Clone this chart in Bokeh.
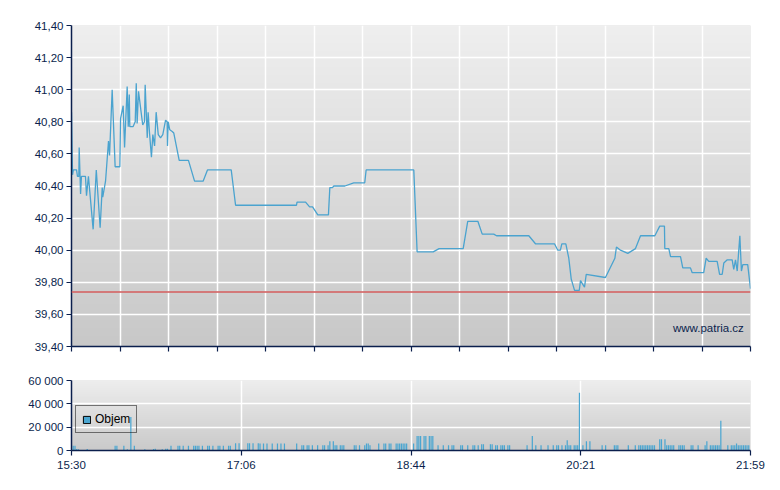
import numpy as np
from bokeh.plotting import figure
from bokeh.layouts import column
from bokeh.models import FixedTicker, Span, Label, Legend, LegendItem, Range1d
from bokeh.embed import file_html
from bokeh.resources import INLINE

# ---------------- data ----------------
# minutes since 15:30 (session 15:30 - 21:59)
session_len = 389
price_min = [
    0, 0.6, 1.1, 2.9, 3.4, 4.2, 4.4, 5.2, 5.7, 8.0,
    8.6, 9.7, 12.4, 14.2, 16.4, 17.6, 17.9, 19.5, 21.2, 21.8,
    23.3, 25.0, 27.7, 28.1, 29.6, 30.4, 31.9, 32.5, 33.1, 33.4,
    35.3, 36.5, 37.1, 37.6, 38.4, 40.8, 41.8, 42.2, 43.4, 43.9,
    44.7, 45.8, 46.6, 47.6, 48.5, 49.7, 51.0, 52.3, 53.9, 54.8,
    55.0, 55.4, 56.3, 57.7, 58.6, 61.7, 67.0, 70.5, 75.4, 77.9,
    91.5, 94.0, 128.9, 129.2, 134.1, 136.4, 138.1, 141.1, 147.2, 148.0,
    149.5, 150.3, 156.6, 161.7, 168.0, 168.8, 196.1, 198.0, 207.2, 210.6,
    224.4, 227.0, 232.8, 235.3, 241.9, 243.5, 262.0, 265.8, 276.7, 278.6,
    280.1, 280.9, 283.2, 284.9, 286.3, 288.2, 290.9, 291.6, 293.9, 294.9,
    305.9, 311.3, 312.2, 314.5, 318.7, 323.1, 326.0, 334.2, 337.0, 339.7,
    339.9, 342.2, 343.2, 348.9, 350.2, 354.6, 355.6, 362.2, 363.6, 365.1,
    369.9, 371.3, 372.8, 373.7, 375.7, 378.5, 379.4, 380.4, 381.4, 382.9,
    383.8, 384.6, 387.4, 389,
]
price_val = [
    40.86, 40.47, 40.50, 40.50, 40.46, 40.46, 40.64, 40.35, 40.46, 40.46,
    40.34, 40.46, 40.13, 40.50, 40.14, 40.39, 40.33, 40.43, 40.68, 40.59,
    41.00, 40.52, 40.52, 40.82, 40.90, 40.64, 41.02, 40.77, 40.97, 40.77,
    40.77, 40.80, 41.04, 40.79, 40.99, 40.78, 40.80, 41.03, 40.70, 40.86,
    40.73, 40.58, 40.72, 40.65, 40.86, 40.72, 40.70, 40.72, 40.81, 40.80,
    40.65, 40.80, 40.75, 40.74, 40.73, 40.56, 40.56, 40.43, 40.43, 40.50,
    40.50, 40.28, 40.28, 40.30, 40.30, 40.27, 40.27, 40.22, 40.22, 40.39,
    40.39, 40.40, 40.40, 40.42, 40.42, 40.50, 40.50, 39.99, 39.99, 40.01,
    40.01, 40.18, 40.18, 40.10, 40.10, 40.09, 40.09, 40.04, 40.04, 40.00,
    40.00, 40.04, 40.04, 39.95, 39.82, 39.75, 39.75, 39.81, 39.77, 39.85,
    39.83, 39.95, 40.02, 40.00, 39.98, 40.01, 40.09, 40.09, 40.15, 40.15,
    40.01, 40.01, 39.96, 39.96, 39.89, 39.89, 39.86, 39.86, 39.95, 39.93,
    39.93, 39.85, 39.85, 39.92, 39.94, 39.94, 39.88, 39.94, 39.87, 40.09,
    39.87, 39.91, 39.91, 39.76,
]
prev_close = 39.74

vol_min = [
    1, 2, 3, 4, 9, 25, 26, 30, 32, 34,
    36, 42, 47, 48, 52, 54, 55, 57, 61, 62,
    64, 67, 70, 71, 72, 73, 75, 78, 79, 81,
    84, 85, 87, 90, 91, 94, 96, 101, 102, 104,
    107, 108, 110, 112, 115, 118, 120, 122, 129, 132,
    133, 135, 136, 138, 141, 144, 145, 147, 148, 150,
    151, 152, 154, 155, 156, 162, 163, 165, 168, 169,
    170, 171, 176, 179, 180, 182, 183, 186, 187, 188,
    189, 190, 191, 192, 196, 198, 199, 200, 202, 203,
    205, 206, 207, 210, 213, 216, 218, 219, 223, 224,
    227, 230, 231, 233, 235, 236, 240, 241, 243, 244,
    246, 247, 248, 250, 251, 261, 264, 266, 269, 273,
    276, 278, 279, 281, 283, 284, 285, 286, 288, 289,
    290, 291, 293, 295, 297, 304, 306, 311, 312, 313,
    319, 323, 325, 326, 327, 328, 329, 330, 331, 332,
    333, 334, 337, 338, 340, 341, 342, 343, 344, 345,
    348, 349, 350, 351, 355, 356, 359, 363, 364, 366,
    367, 368, 369, 370, 371, 372, 376, 378, 379, 380,
    381, 382, 383, 384, 385, 386, 387, 388,
]
vol_shares = [
    4100, 4100, 1200, 1000, 1200, 4100, 4100, 4100, 1000, 28800,
    4100, 1000, 1200, 1500, 1000, 1500, 1500, 4100, 4100, 4100,
    4100, 4100, 4100, 4100, 4100, 4100, 4100, 4100, 4100, 4100,
    4100, 4100, 4100, 4100, 4100, 6200, 6200, 6200, 6200, 6200,
    6200, 5900, 5900, 5900, 5900, 5900, 5900, 5900, 5900, 4400,
    4400, 4400, 4400, 4400, 4400, 4400, 4400, 4400, 7900, 7900,
    4400, 4400, 4400, 4400, 4400, 4400, 4400, 4400, 4400, 5900,
    5900, 4400, 5900, 5900, 5900, 5900, 5900, 5900, 5900, 5900,
    5900, 5900, 5900, 5900, 5900, 12400, 12400, 12400, 12400, 12400,
    12400, 12400, 12400, 4400, 4400, 4400, 4400, 4400, 4400, 4400,
    4400, 4400, 4400, 4400, 5300, 5300, 5300, 5300, 4400, 4400,
    4400, 4400, 4400, 4400, 4400, 4400, 12400, 4400, 4400, 4400,
    4400, 4400, 4400, 4400, 4400, 8800, 4400, 4400, 4400, 4400,
    4400, 49400, 4400, 7900, 7900, 4400, 4400, 4400, 4400, 4400,
    4400, 4400, 4400, 4400, 4400, 4400, 4400, 4400, 4400, 4400,
    4400, 4400, 9700, 9700, 9700, 4400, 4400, 4400, 4400, 4400,
    4400, 4400, 4400, 4400, 4400, 4400, 4400, 4400, 7900, 4400,
    4400, 4400, 4400, 4400, 4400, 25600, 4400, 4400, 4400, 4400,
    5900, 4400, 4400, 4400, 4400, 4400, 4400, 4400,
]

price_ticks = [39.4, 39.6, 39.8, 40.0, 40.2, 40.4, 40.6, 40.8, 41.0, 41.2, 41.4]
price_labels = ["39,40", "39,60", "39,80", "40,00", "40,20", "40,40",
                "40,60", "40,80", "41,00", "41,20", "41,40"]
vol_ticks = [0, 20000, 40000, 60000]
vol_labels = ["0", "20 000", "40 000", "60 000"]
time_labels = ["15:30", "17:06", "18:44", "20:21", "21:59"]

# ---------------- style ----------------
FONT = "Liberation Sans"
NAVY = "#0b1f4d"
LINE_C = "#4aa3cf"
BAR_C = "#4aa6d1"
W = 770
LEFT = 71


def gradient(top, bottom, n=200):
    t = np.linspace(0, 1, n)[:, None]
    top = np.array(top, dtype=float)
    bottom = np.array(bottom, dtype=float)
    rgb = bottom + (top - bottom) * t  # row 0 is bottom
    img = np.empty((n, 1), dtype=np.uint32)
    view = img.view(dtype=np.uint8).reshape((n, 1, 4))
    view[:, 0, 0] = rgb[:, 0]
    view[:, 0, 1] = rgb[:, 1]
    view[:, 0, 2] = rgb[:, 2]
    view[:, 0, 3] = 255
    return img


def style_axis(ax):
    ax.axis_line_color = NAVY
    ax.axis_line_width = 1.5
    ax.major_tick_line_color = NAVY
    ax.major_tick_line_width = 1.2
    ax.major_tick_out = 5
    ax.major_tick_in = 0
    ax.minor_tick_line_color = NAVY
    ax.minor_tick_line_width = 1.2
    ax.minor_tick_out = 5
    ax.minor_tick_in = 0
    ax.major_label_text_font = FONT
    ax.major_label_text_font_size = "11.5px"
    ax.major_label_text_color = NAVY
    ax.major_label_standoff = 3


# ---------------- price chart ----------------
p1 = figure(width=W, height=360, output_backend="svg", toolbar_location=None,
            x_range=Range1d(0, session_len), y_range=Range1d(price_ticks[0], price_ticks[-1]),
            min_border_left=LEFT, min_border_right=20, min_border_top=25, min_border_bottom=14)
p1.outline_line_color = None
p1.background_fill_color = "#dddddd"
p1.image_rgba(image=[gradient((239, 239, 239), (200, 200, 200))], x=0, y=price_ticks[0],
              dw=session_len, dh=price_ticks[-1] - price_ticks[0], level="image")

grid_ticks = [session_len * i / 14 for i in range(15)]
# unlabeled tick marks: use minor ticks only on the price chart's time axis
p1.xaxis.ticker = FixedTicker(ticks=[], minor_ticks=grid_ticks)
p1.xgrid.ticker = FixedTicker(ticks=grid_ticks)
p1.yaxis.ticker = FixedTicker(ticks=price_ticks)
p1.ygrid.ticker = FixedTicker(ticks=price_ticks)
p1.yaxis.major_label_overrides = dict(zip(price_ticks, price_labels))
for g in (p1.xgrid, p1.ygrid):
    g.grid_line_color = "white"
    g.grid_line_width = 1.5
style_axis(p1.yaxis[0])
p1.yaxis.minor_tick_line_color = None
style_axis(p1.xaxis[0])

p1.line(price_min, price_val, line_color=LINE_C, line_width=1.3)
p1.add_layout(Span(location=prev_close, dimension="width", line_color="#d46a6a",
                   line_width=2, line_alpha=0.85))
p1.add_layout(Label(x=385.2, y=39.518, text="www.patria.cz", text_align="right",
                    text_baseline="alphabetic", text_font=FONT, text_font_size="11.5px",
                    text_color=NAVY))

# ---------------- volume chart ----------------
p2 = figure(width=W, height=115, output_backend="svg", toolbar_location=None,
            x_range=Range1d(0, session_len), y_range=Range1d(vol_ticks[0], vol_ticks[-1]),
            min_border_left=LEFT, min_border_right=20, min_border_top=20, min_border_bottom=25)
p2.outline_line_color = None
p2.background_fill_color = "#dddddd"
p2.image_rgba(image=[gradient((238, 238, 238), (202, 202, 202))], x=0, y=vol_ticks[0],
              dw=session_len, dh=vol_ticks[-1], level="image")

time_ticks = [session_len * i / 4 for i in range(5)]
p2.xaxis.ticker = FixedTicker(ticks=time_ticks)
p2.xgrid.ticker = FixedTicker(ticks=time_ticks)
p2.xaxis.major_label_overrides = dict(zip(time_ticks, time_labels))
p2.yaxis.ticker = FixedTicker(ticks=vol_ticks)
p2.ygrid.ticker = FixedTicker(ticks=vol_ticks)
p2.yaxis.major_label_overrides = dict(zip(vol_ticks, vol_labels))
for g in (p2.xgrid, p2.ygrid):
    g.grid_line_color = "white"
    g.grid_line_width = 1.5
style_axis(p2.yaxis[0])
style_axis(p2.xaxis[0])
p2.xaxis.minor_tick_line_color = None
p2.yaxis.minor_tick_line_color = None

p2.vbar(x=vol_min, top=vol_shares, bottom=0, width=0.7, fill_color=BAR_C, line_color=None)
# legend proxy: zero-height bar at the first bar's position (hidden under the axis line)
proxy = p2.vbar(x=vol_min[:1], top=[0], bottom=0, width=0.7,
                fill_color=BAR_C, line_color="black", line_width=1)
legend = Legend(items=[LegendItem(label="Objem", renderers=[proxy])], location=(4, 17),
                padding=6, spacing=0, glyph_width=9, glyph_height=9, label_standoff=4,
                label_text_font=FONT, label_text_font_size="12px", label_text_color="black",
                border_line_color="black", border_line_width=1, background_fill_alpha=0,
                margin=0)
p2.add_layout(legend)

layout = column(p1, p2, spacing=0)
open("out.html", "w").write(file_html(layout, INLINE))
